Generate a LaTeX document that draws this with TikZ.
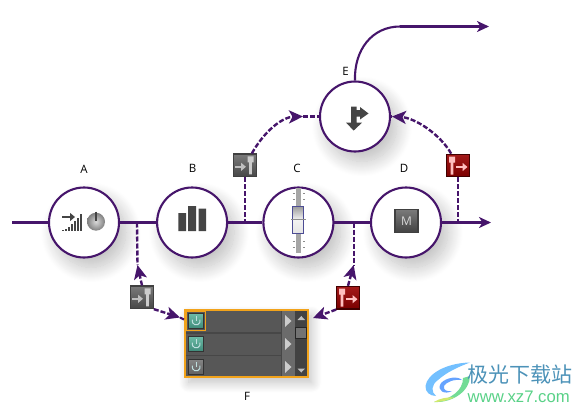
\documentclass[tikz,border=0pt]{standalone}
\usepackage{fontspec}
\setmainfont{Open Sans}
\newfontfamily\cjkfont{Noto Sans CJK SC}
\newfontfamily\urlfont{Liberation Sans}
\usepackage{xcolor}
\usepackage{tikz}
\usetikzlibrary{shapes.geometric, arrows.meta, positioning, calc, shadows.blur}
\definecolor{sigpurple}{HTML}{46156B}
\definecolor{amber}{HTML}{F2A31B}
\definecolor{icondark}{HTML}{454545}
\definecolor{btnteal}{HTML}{6DBBA6}
\definecolor{btnteald}{HTML}{3E8A7A}
\tikzset{
  stage/.style   = {circle, draw=sigpurple, line width=2.1pt, fill=white, minimum size=70pt, inner sep=0pt,
                    blur shadow={shadow xshift=7pt, shadow yshift=-10pt, shadow blur radius=15pt, shadow blur steps=30, shadow opacity=26}},
  tag/.style     = {font=\fontsize{11.5}{13}\selectfont, text=black, inner sep=0pt},
  sendgray/.style= {rectangle, draw=black!75, line width=1.2pt, top color=black!52, bottom color=black!72,
                    minimum size=22.5pt, inner sep=0pt},
  sendred/.style = {rectangle, draw=red!25!black, line width=1.2pt, top color=red!60!black!90, bottom color=red!48!black,
                    minimum size=22.5pt, inner sep=0pt},
  sig/.style     = {line width=2.1pt, draw=sigpurple},
  sigarr/.style  = {sig, -{Stealth[length=12pt, width=11pt, inset=3.5pt]}},
  tap/.style     = {sig, line width=2.4pt, dash pattern=on 5pt off 2pt},
  taparr/.style  = {tap, -{Stealth[length=14pt, width=13pt, inset=3.5pt]}},
  rowbox/.style  = {rectangle, draw=black!72, line width=.6pt, fill=black!66, minimum width=96pt, minimum height=22pt, inner sep=0pt},
  onbtn/.style   = {rectangle, draw=black!80, line width=1.4pt, top color=btnteal, bottom color=btnteald,
                    minimum width=15pt, minimum height=15pt, inner sep=0pt},
  offbtn/.style  = {rectangle, draw=black!80, line width=1.4pt, top color=black!48, bottom color=black!62,
                    minimum width=15pt, minimum height=15pt, inner sep=0pt},
  tri/.style     = {fill=black!20},
  faderin/.pic   = {
    \draw[white!75!black, line width=2.2pt, -{Triangle[length=5pt, width=8pt]}] (-10,1.5) -- (1,1.5);
    \fill[white!80!black] (2.5,-9) rectangle (8.5,-3) (4.2,-3) rectangle (6.8,9);},
  faderout/.pic  = {
    \draw[white!75!red, line width=2.2pt, -{Triangle[length=5pt, width=8pt]}] (-2,1.5) -- (9.5,1.5);
    \fill[white!75!red] (-9,-9) rectangle (-3,-3) (-7.3,-3) rectangle (-4.7,9);},
  powsign/.pic   = {
    \draw[white!75!teal, line width=1pt] (-3.6,-1.4) arc[start angle=200, end angle=-20, radius=4];
    \draw[white!75!teal, line width=1pt] (0,-5) -- (0,-.2);}
}
\begin{document}
\begin{tikzpicture}[x=1pt, y=-1pt, node distance=0pt and 36pt]
  \useasboundingbox (0,0) rectangle (584,412);
  \node[stage] (A) at (84,222.5) {};
  \node[stage] (B) [right=of A] {};
  \node[stage] (C) [right=34.2pt of B] {};
  \node[stage] (D) [right=35.5pt of C] {};
  \node[stage] (E) at (355,116.5) {};

  \node[tag] (labA) at (84,169) {A};
  \node[tag] (labB) at (192.5,168.5) {B};
  \node[tag] (labC) at (297,168.5) {C};
  \node[tag] (labD) at (404,168.5) {D};
  \node[tag] (labE) at (345.5,71) {E};
  \node[tag] (labF) at (247,396) {F};

  \coordinate (in) at (12,222.5);
  \coordinate (out) at (491,222.5);
  \coordinate (bend) at (400,26.5);
  \coordinate (top) at (489,26.5);
  \draw[sig] (in)--(A); \draw[sig] (A)--(B); \draw[sig] (B)--(C); \draw[sig] (C)--(D);
  \draw[sigarr] (D)--(out);
  \draw[sig] (E.north) .. controls (354,50) and (372,26.5) .. (bend);
  \draw[sigarr] (bend)--(top);

  % mixer strip
  \node[rectangle, fill=black!68, minimum width=123pt, minimum height=67pt, inner sep=0pt,
        blur shadow={shadow xshift=4pt, shadow yshift=-6pt, shadow blur radius=10pt, shadow blur steps=20, shadow opacity=25}] (panel) at (246.3,343.3) {};
  \node[rowbox] (row1) at (233.3,321.6) {};
  \node[rowbox] (row2) at (233.3,344.2) {};
  \node[rowbox] (row3) at (233.3,366.5) {};
  \fill[black!74] (295,310.4) rectangle (307.4,376.4);
  \fill[black!58] (282,311) rectangle (294.5,376);
  \node[rectangle, draw=black!85, line width=1pt, fill=black!55, minimum width=11pt, minimum height=11pt, inner sep=0pt] (thumb) at (301.3,332.8) {};
  \fill[black!25] (297.5,320) -- (305,320) -- (301.3,316) -- cycle;
  \fill[black!25] (297.5,368.5) -- (305,368.5) -- (301.3,372.5) -- cycle;
  \foreach \y in {321,344,367}
    \fill[tri] (285,\y-6) -- (291.5,\y) -- (285,\y+6) -- cycle;
  \draw[amber, line width=1.6pt] (184.9,310) rectangle (307.7,376.8);
  \draw[amber, line width=1.1pt] (186.3,311.2) rectangle (205.7,330.6);
  \node[onbtn]  (btn1) at (196,321) {};
  \node[onbtn]  (btn2) at (196,344) {};
  \node[offbtn] (btn3) at (196,367) {};
  \pic at (btn1) {powsign};
  \pic at (btn2) {powsign};
  \pic at (btn3) {powsign};

  % sends
  \node[sendgray] (sendA) at (142,297.3) {};
  \node[sendred]  (sendC) at (348,297.7) {};
  \node[sendgray] (sendB) at (245,165.3) {};
  \node[sendred]  (sendD) at (458,165.5) {};
  \pic at (sendA) {faderin};
  \pic at (sendB) {faderin};
  \pic at (sendC) {faderout};
  \pic at (sendD) {faderout};

  \coordinate (tapA) at (137,222.5);
  \coordinate (tipA) at (137.5,265);
  \coordinate (tapB) at (245,222.5);
  \coordinate (tapC) at (353.7,222.5);
  \coordinate (tipC) at (353.7,265);
  \coordinate (tapD) at (458,222.5);
  \coordinate (tipB) at (303,116.5);
  \coordinate (tipD) at (392,116.5);
  \coordinate (tipF) at (180,317.5);
  \coordinate (tipG) at (313,318);
  \draw[tap] (tapA)--(tipA);
  \draw[taparr] (sendA.north)--(tipA);
  \draw[taparr] (sendA.south east)--(tipF);
  \draw[sig] (tipF)--(184,319.5);
  \draw[tap] (tapC)--(tipC);
  \draw[taparr] (sendC.north)--(tipC);
  \draw[taparr] (sendC.south west)--(tipG);
  \draw[tap] (sendB)--(tapB);
  \draw[tap] (sendD)--(tapD);
  \draw[taparr] (sendB.60) .. controls (265,130) and (283,117) .. (tipB);
  \draw[tap] (tipB)--(E);
  \draw[taparr] (sendD.120) .. controls (440,134) and (415,118) .. (tipD);
  \draw[tap] (tipD)--(E);

  % icons
  \draw[icondark, line width=2.2pt, -{Triangle[length=5pt, width=8pt]}] (62,217) -- (75,217);
  \foreach \x/\h in {62/1,65/2.5,68/4.5,71/7,74/10,77/13.5,80.3/17.5}
    \fill[icondark] (\x,231) rectangle (\x+1.5,231-\h);
  \shade[inner color=black!15, outer color=black!50] (96,221.7) circle (9);
  \draw[icondark, line width=1.4pt] (96,211.5) -- (96,221);
  \fill[icondark] (178.3,213) rectangle (186,231) (188,206) rectangle (196,231) (198.7,208.7) rectangle (206,231);
  \fill[black!35] (296,188) rectangle (301.3,253);
  \foreach \y in {193,199,241,247} {
    \draw[black!45, line width=.6pt] (292.5,\y) -- (294.5,\y) (303,\y) -- (305,\y);}
  \node[rectangle, draw=blue!40!black!70, line width=1pt, top color=black!40, bottom color=black!10, middle color=black!5,
        minimum width=11pt, minimum height=27pt, inner sep=0pt] (cap) at (298.4,219.5) {};
  \draw[black!45, line width=.5pt] (291,219) -- (306,219);
  \node[rectangle, draw=black!75, line width=1.2pt, top color=black!52, bottom color=black!74, minimum size=23pt,
        inner sep=0pt, text=white!85!black, font=\fontsize{12}{14}\selectfont] (mute) at (406.5,221) {M};
  \fill[icondark] (351,106.7) -- (351,122.7) -- (346,122.7) -- (353.7,130.5) -- (362,122.7) -- (356.7,122.7) -- (356.7,116.7)
    -- (360,116.7) -- (360,119.5) -- (368.5,113.5) -- (360,107) -- (360,110.2) -- (356.7,110.2) -- (356.7,106.7) -- cycle;

  % watermark
  \fill[blue!45!cyan!55] (470,362.5) .. controls (446,363) and (427,374) .. (425.5,386) .. controls (425,392) and (430,396) .. (436,396)
    .. controls (431,392) and (431,385) .. (438,380) .. controls (447,372) and (458,367) .. (470,362.5) -- cycle;
  \fill[blue!60!cyan!60] (441,383) .. controls (447,377) and (458,376) .. (462,380) .. controls (454,379) and (446,382) .. (444,386)
    .. controls (443,390) and (447,392) .. (452,391) .. controls (445,395) and (436,391) .. (441,383) -- cycle;
  \fill[green!50!teal!55] (470,376) .. controls (470,390) and (454,403) .. (434,402) .. controls (452,399) and (463,390) .. (463,378) -- cycle;
  \fill[yellow!70!green!60] (434,402) .. controls (441,402) and (448,400.5) .. (454,397.5) .. controls (448,397) and (440,398) .. (434,402) -- cycle;
  \node[inner sep=0pt, anchor=west, text=blue!35!cyan!60!black!70, font=\cjkfont\fontsize{21}{23}\selectfont] (mark) at (467.5,374.5) {极光下载站};
  \node[inner sep=0pt, anchor=west, text=green!45!teal!65, font=\urlfont\fontsize{16.7}{18}\selectfont] (url) at (467.5,396.5) {www.xz7.com};
\end{tikzpicture}
\end{document}
